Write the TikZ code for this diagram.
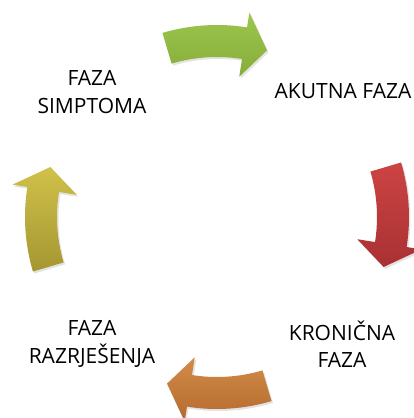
\documentclass[tikz,border=0pt]{standalone}
\usepackage{fontspec}
\setmainfont{Open Sans}
\usetikzlibrary{shadows}

\definecolor{greentop}{HTML}{9DC64F}
\definecolor{greenbot}{HTML}{85AD38}
\definecolor{redtop}{HTML}{CC4444}
\definecolor{redbot}{HTML}{A93132}
\definecolor{orangetop}{HTML}{D28C48}
\definecolor{orangebot}{HTML}{B46A2E}
\definecolor{yellowtop}{HTML}{D0C14A}
\definecolor{yellowbot}{HTML}{A59632}

\tikzset{
  phase/.style={font=\fontsize{21}{27.5}\selectfont, align=center, text=black},
  cyclearrow/.style={drop shadow={shadow xshift=1.5pt, shadow yshift=-2pt, opacity=0.22}},
}

\begin{document}
\begin{tikzpicture}[x=1pt, y=1pt]
    \useasboundingbox (0,0) rectangle (414,418);

    \node[phase] (akutna) at (343, 327) {AKUTNA FAZA};
    \node[phase] (kronicna) at (342, 74) {KRONIČNA\\FAZA};
    \node[phase] (razrjesenja) at (92, 74) {FAZA\\RAZRJEŠENJA};
    \node[phase] (simptoma) at (92, 326) {FAZA\\SIMPTOMA};

    % curved arrows between the phases, clockwise
    \foreach \ang/\ctop/\cbot in {90/greentop/greenbot, 0/redtop/redbot, 270/orangetop/orangebot, 180/yellowtop/yellowbot}
        \path[cyclearrow, top color=\ctop, bottom color=\cbot, shift={(217pt,201pt)}]
            ({\ang+16.5}:192pt) arc[start angle=\ang+16.5, end angle=\ang-9, radius=192pt]
            -- ({\ang-9}:207pt) -- ({\ang-16.7}:174pt) -- ({\ang-9}:142pt) -- ({\ang-9}:160pt)
            arc[start angle=\ang-9, end angle=\ang+16.5, radius=160pt] -- cycle;
\end{tikzpicture}
\end{document}
